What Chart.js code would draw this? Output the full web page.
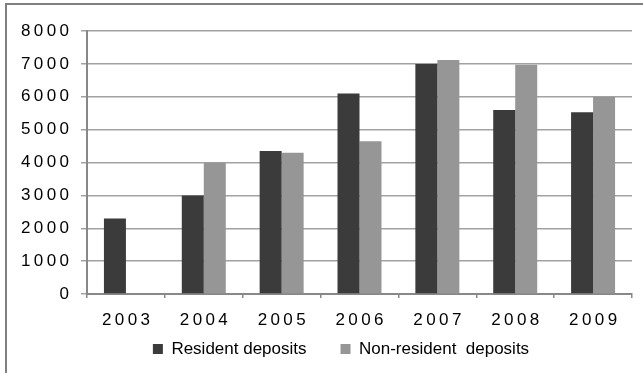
<!DOCTYPE html>
<html>
<head>
<meta charset="utf-8">
<script src="https://cdn.jsdelivr.net/npm/chart.js@4/dist/chart.umd.min.js"></script>
<style>
  html, body { margin: 0; padding: 0; background: #fff; }
  #wrap { position: relative; width: 643px; height: 373px; overflow: hidden; }
  #frame { position: absolute; left: 5px; top: 3px; right: -10px; bottom: -10px;
           border-top: 2px solid #808080; border-left: 2px solid #808080; }
  canvas { position: absolute; left: 0; top: 0; }
</style>
</head>
<body>
<div id="wrap">
  <div id="frame"></div>
  <canvas id="c" width="643" height="373"></canvas>
</div>
<script>
const categories = ['2003', '2004', '2005', '2006', '2007', '2008', '2009'];
const residentDeposits = [2300, 3000, 4350, 6100, 7000, 5600, 5530];
const nonResidentDeposits = [null, 4000, 4300, 4650, 7120, 6970, 6000];
const seriesNames = ['Resident deposits', 'Non-resident  deposits'];
const yTicks = [0, 1000, 2000, 3000, 4000, 5000, 6000, 7000, 8000];

const spaced = s => String(s).split('').join('\u2009');
const FONT = "'Liberation Sans', Arial, sans-serif";

const legendShift = {
  id: 'legendShift',
  afterLayout(chart) {
    const lg = chart.legend;
    if (!lg) return;
    const dx = 25;
    const h = lg.bottom - lg.top;
    lg.left += dx; lg.right += dx;
    lg.top = 306.5; lg.bottom = lg.top + h;
  }
};

new Chart(document.getElementById('c'), {
  type: 'bar',
  data: {
    labels: categories,
    datasets: [
      { label: seriesNames[0], data: residentDeposits, backgroundColor: '#3b3b3b',
        barPercentage: 1, categoryPercentage: 0.565 },
      { label: seriesNames[1], data: nonResidentDeposits, backgroundColor: '#969696',
        barPercentage: 1, categoryPercentage: 0.565 }
    ]
  },
  plugins: [legendShift],
  options: {
    responsive: false,
    animation: false,
    layout: { padding: { top: 31, right: 11, left: 0, bottom: -18 } },
    plugins: {
      tooltip: { enabled: false },
      legend: {
        position: 'bottom',
        labels: {
          boxWidth: 10, boxHeight: 10, padding: 34,
          color: '#000',
          font: { family: FONT, size: 17 }
        }
      }
    },
    scales: {
      x: {
        afterFit: s => { s.height = 36; },
        grid: { display: true, drawOnChartArea: false, drawTicks: true, tickLength: 4,
                color: '#888', lineWidth: 1.5 },
        border: { display: true, color: '#888', width: 2 },
        ticks: { color: '#000', padding: 12, font: { family: FONT, size: 17 },
                 callback: function (v, i) { return spaced(categories[i]); } }
      },
      y: {
        min: 0, max: 8000,
        afterFit: s => { s.width = 87; },
        afterBuildTicks: s => { s.ticks = yTicks.map(v => ({ value: v })); },
        grid: { color: '#a2a2a2', lineWidth: 1.5, tickLength: 6 },
        border: { display: true, color: '#888', width: 2 },
        ticks: { color: '#000', padding: 12, font: { family: FONT, size: 17 },
                 callback: v => spaced(v) }
      }
    }
  }
});
</script>
</body>
</html>
